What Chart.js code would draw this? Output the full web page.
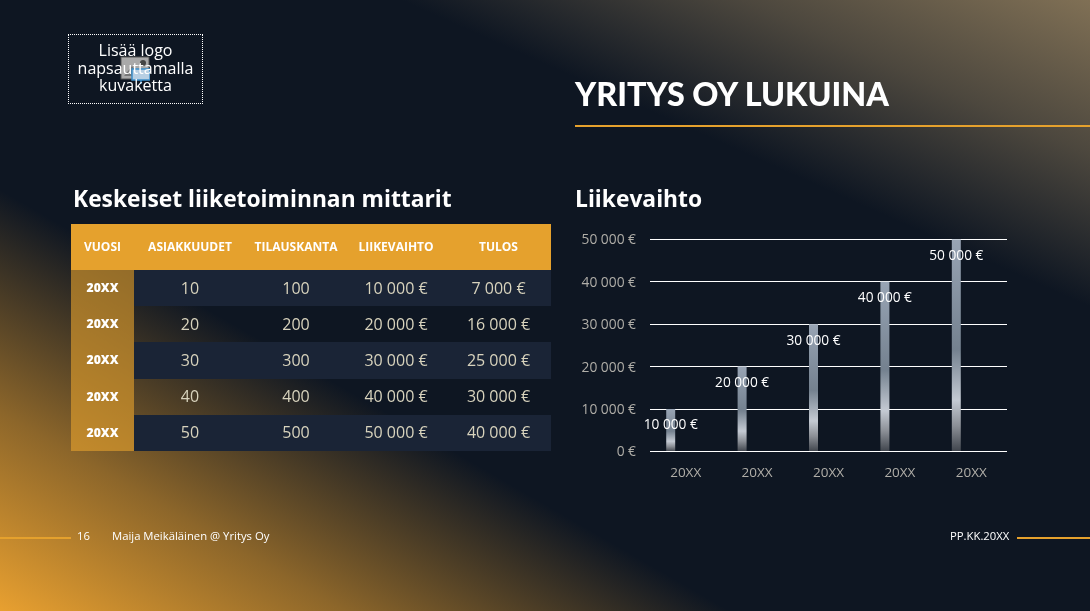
<!DOCTYPE html>
<html lang="fi">
<head>
<meta charset="utf-8">
<title>Yritys Oy lukuina</title>
<script src="https://cdn.jsdelivr.net/npm/chart.js@4"></script>
<style>
html, body { margin: 0; padding: 0; }
body {
    width: 1090px; height: 611px; overflow: hidden; position: relative;
    font-family: "Open Sans", sans-serif; color: #fff;
    background:
        linear-gradient(24deg, rgba(128,112,85,0) 72%, rgba(128,112,85,0.55) 86%, rgba(128,112,85,1) 100%),
        linear-gradient(210deg, rgba(232,160,48,0) 66%, rgba(232,160,48,0.58) 84%, rgba(232,160,48,1) 100%),
        #0e1622;
}
.abs { position: absolute; white-space: nowrap; will-change: transform; }
#logo {
    left: 68px; top: 34px; width: 133px; height: 68px; border: 1px dotted #fff;
    text-align: center; font-size: 16px; line-height: 17.5px;
}
#logo span { position: relative; display: block; top: 7px; }
#logo svg { position: absolute; left: 51px; top: 21px; }
#title { left: 575px; top: 74px; font-family: Lato, sans-serif; font-weight: 900; font-size: 32.3px; line-height: 40px; }
#rule { left: 575px; top: 125px; width: 515px; height: 2px; background: #e5a12d; }
.heading { font-weight: 700; font-size: 22.8px; line-height: 30px; top: 184px; }
#kpi {
    left: 71px; top: 224px; width: 480px; border-collapse: collapse; table-layout: fixed;
    text-align: center; font-size: 16px; color: #d8d3bd;
}
#kpi td, #kpi th { padding: 0 0 1px 0; }
#kpi thead tr { height: 46px; background: #e5a12d; color: #fff; font-size: 12px; font-weight: 700; }
#kpi tbody tr { height: 36.2px; }
#kpi tbody tr:nth-child(odd) td { background: #1a2436; }
#kpi tbody th { background: rgba(229,161,45,0.62); color: #fff; font-size: 12.2px; font-weight: 800; }
#revenue { position: absolute; left: 575px; top: 217px; }
.foot { font-size: 11.3px; line-height: 14px; top: 529px; color: #fff; }
.footline { height: 2px; top: 537px; background: #e5a12d; }
</style>
</head>
<body>
<div class="abs" id="logo">
    <svg width="30" height="28" viewBox="0 0 30 28">
        <rect x="1" y="1" width="28" height="22" fill="#a9a9a9" stroke="#555"/>
        <path d="M4 20 L12 10 L20 20 Z" fill="#777"/>
        <circle cx="23" cy="7" r="3" fill="#444"/>
        <rect x="12" y="13" width="18" height="11" fill="#b7cfe3" stroke="#3d8ec9" stroke-width="1.5"/>
        <path d="M21 24 L21 28" stroke="#3d8ec9" stroke-width="1.5"/>
    </svg>
    <span>Lisää logo<br>napsauttamalla<br>kuvaketta</span>
</div>
<div class="abs" id="title">YRITYS OY LUKUINA</div>
<div class="abs" id="rule"></div>
<div class="abs heading" style="left:73px">Keskeiset liiketoiminnan mittarit</div>
<div class="abs heading" style="left:574.5px">Liikevaihto</div>
<table class="abs" id="kpi">
    <colgroup>
        <col style="width:63px"><col style="width:112px"><col style="width:100px"><col style="width:100px"><col style="width:105px">
    </colgroup>
    <thead><tr id="kpiHead"></tr></thead>
    <tbody id="kpiBody"></tbody>
</table>
<canvas id="revenue" width="432" height="260"></canvas>
<div class="abs footline" style="left:0;width:71px"></div>
<div class="abs foot" style="left:77px">16</div>
<div class="abs foot" style="left:112px">Maija Meikäläinen @ Yritys Oy</div>
<div class="abs foot" style="right:81px">PP.KK.20XX</div>
<div class="abs footline" style="left:1017px;width:73px"></div>

<script>
// Table data
const tableHeaders = ['VUOSI', 'ASIAKKUUDET', 'TILAUSKANTA', 'LIIKEVAIHTO', 'TULOS'];
const tableYears = ['20XX', '20XX', '20XX', '20XX', '20XX'];
const customers = ['10', '20', '30', '40', '50'];
const orderBook = ['100', '200', '300', '400', '500'];
const turnoverCells = ['10 000 €', '20 000 €', '30 000 €', '40 000 €', '50 000 €'];
const profitCells = ['7 000 €', '16 000 €', '25 000 €', '30 000 €', '40 000 €'];

// Chart data
const categories = ['20XX', '20XX', '20XX', '20XX', '20XX'];
const turnover = [10000, 20000, 30000, 40000, 50000];
const emptySeries = [null, null, null, null, null];

function euro(value) {
    return String(value).replace(/\B(?=(\d{3})+$)/g, ' ') + ' €';
}

document.getElementById('kpiHead').innerHTML = tableHeaders.map(h => '<th>' + h + '</th>').join('');
document.getElementById('kpiBody').innerHTML = tableYears.map((year, i) =>
    '<tr><th>' + year + '</th><td>' + customers[i] + '</td><td>' + orderBook[i] +
    '</td><td>' + turnoverCells[i] + '</td><td>' + profitCells[i] + '</td></tr>').join('');

// Each bar gets its own vertical steel gradient
function barGradient(context) {
    const chart = context.chart;
    const value = turnover[context.dataIndex];
    const top = chart.scales.y ? chart.scales.y.getPixelForValue(value) : NaN;
    const bottom = chart.scales.y ? chart.scales.y.getPixelForValue(0) : NaN;
    if (!Number.isFinite(top) || !Number.isFinite(bottom)) return '#8b95a3';
    const g = chart.ctx.createLinearGradient(0, top, 0, bottom);
    g.addColorStop(0, '#98a4b4');
    g.addColorStop(0.52, '#74818f');
    g.addColorStop(0.76, '#c4cad3');
    g.addColorStop(0.88, '#8b8f96');
    g.addColorStop(1, '#3f444c');
    return g;
}

// Values sit just under the top of the bar, over the gridlines
const barValueLabels = {
    id: 'barValueLabels',
    afterDatasetsDraw(chart) {
        const ctx = chart.ctx;
        ctx.save();
        ctx.font = '13.7px "Open Sans"';
        ctx.fillStyle = '#ffffff';
        ctx.textAlign = 'center';
        ctx.textBaseline = 'middle';
        chart.getDatasetMeta(0).data.forEach((bar, i) => {
            ctx.fillText(euro(turnover[i]), bar.x, bar.y + 16.5);
        });
        ctx.restore();
    }
};

const revenueChart = new Chart(document.getElementById('revenue').getContext('2d'), {
    type: 'bar',
    data: {
        labels: categories,
        datasets: [
            { label: 'Liikevaihto', data: turnover, backgroundColor: barGradient, categoryPercentage: 0.84, barPercentage: 0.3 },
            { label: '', data: emptySeries, categoryPercentage: 0.84, barPercentage: 0.3 }
        ]
    },
    options: {
        responsive: false,
        animation: false,
        layout: { padding: { top: 7 } },
        plugins: { legend: { display: false }, tooltip: { enabled: false } },
        scales: {
            x: {
                afterFit: scale => { scale.height = 25.5; },
                grid: { display: false },
                border: { display: false },
                ticks: { color: '#b0aea8', font: { family: 'Open Sans', size: 13.5 }, padding: 6, maxRotation: 0 }
            },
            y: {
                min: 0,
                max: 50000,
                afterFit: scale => { scale.width = 75; },
                border: { display: false },
                grid: { color: '#ffffff', lineWidth: 1, drawTicks: false },
                ticks: {
                    stepSize: 10000,
                    color: '#b0aea8',
                    font: { family: 'Open Sans', size: 13.8 },
                    padding: 14,
                    labelOffset: 1,
                    callback: value => euro(value)
                }
            }
        }
    },
    plugins: [barValueLabels]
});
revenueChart.update();
</script>
</body>
</html>
